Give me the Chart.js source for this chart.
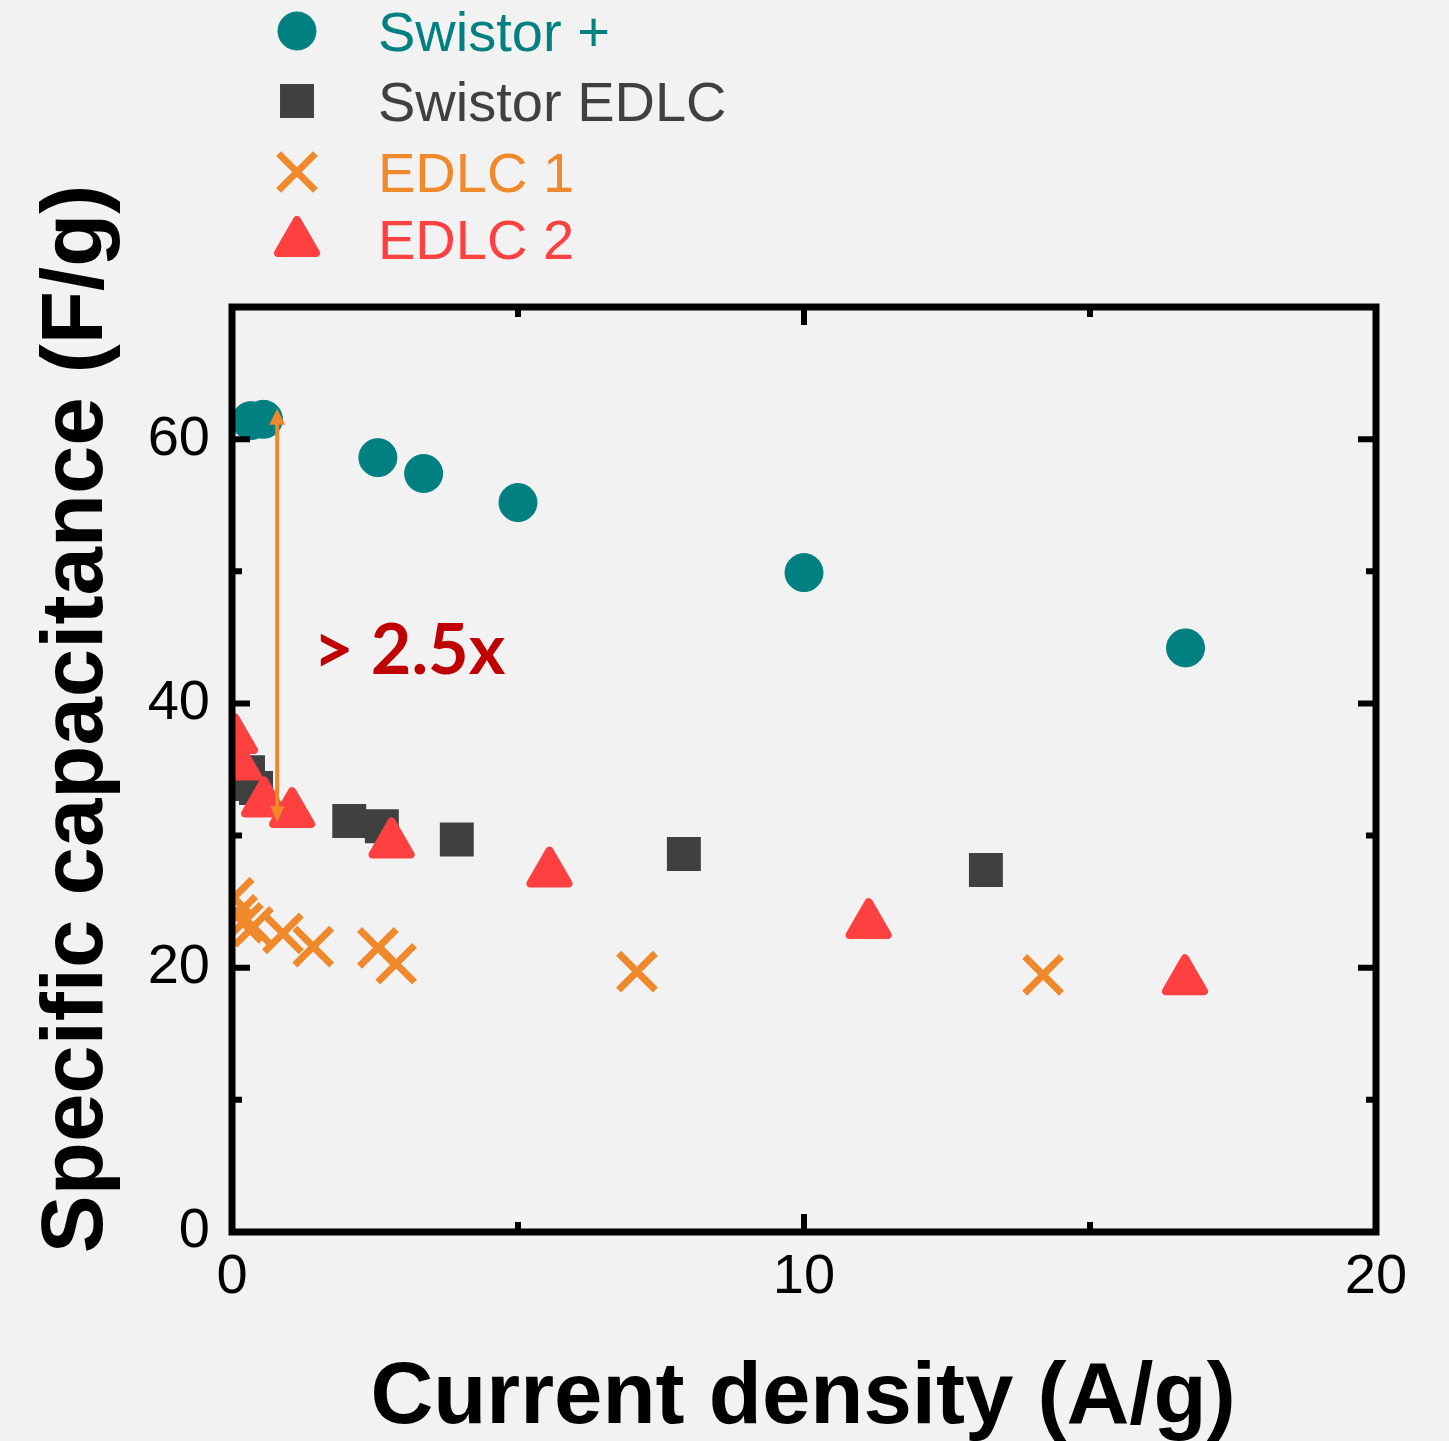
<!DOCTYPE html>
<html>
<head>
<meta charset="utf-8">
<script src="https://cdn.jsdelivr.net/npm/chart.js@4/dist/chart.umd.min.js"></script>
<style>
  html, body { margin: 0; padding: 0; background: #f2f2f2; }
  #wrap { width: 1449px; height: 1441px; }
</style>
</head>
<body>
<div id="wrap"><canvas id="myChart" width="1449" height="1441"></canvas></div>
<script>
// data
const swistorPlusX = [0.33, 0.55, 2.55, 3.35, 5.0, 10.0, 16.67];
const swistorPlusY = [61.4, 61.5, 58.6, 57.4, 55.2, 49.9, 44.2];

const swistorEdlcX = [0.15, 0.28, 0.42, 2.05, 2.62, 3.93, 7.9, 13.18];
const swistorEdlcY = [33.9, 34.8, 33.6, 31.1, 30.7, 29.7, 28.6, 27.4];

const edlc1X = [0.03, 0.09, 0.19, 0.37, 0.89, 1.42, 2.55, 2.87, 7.08, 14.18];
const edlc1Y = [25.3, 24.0, 23.4, 23.1, 22.6, 21.6, 21.5, 20.3, 19.7, 19.46];

const edlc2X = [0.05, 0.12, 0.56, 1.05, 2.79, 5.55, 11.13, 16.66];
const edlc2Y = [37.3, 35.3, 32.5, 31.7, 29.4, 27.2, 23.3, 19.05];

const seriesNames = ["Swistor +", "Swistor EDLC", "EDLC 1", "EDLC 2"];
const seriesColors = ["#008080", "#404040", "#f0882c", "#ff4040"];

const xTicks = [0, 5, 10, 15, 20];
const xTickLabels = ["0", "", "10", "", "20"];
const yTicks = [0, 10, 20, 30, 40, 50, 60, 70];
const yTickLabels = ["0", "", "20", "", "40", "", "60", ""];

// arrow and ratio note
const arrowX = 0.79;
const arrowFrom = 31.0;
const arrowTo = 62.3;
const noteText = "> 2.5x";
const noteX = 1.42;
const noteY = 42.2;

const font = "'Liberation Sans', Arial, sans-serif";

function toPoints(xs, ys) {
    return xs.map((x, i) => ({ x: x, y: ys[i] }));
}

const markers = [
    { pointStyle: "circle", radius: 19, borderWidth: 1 },
    { pointStyle: "rect", radius: 24, borderWidth: 0 },
    { pointStyle: "crossRot", radius: 26, borderWidth: 7 },
    { pointStyle: "triangle", radius: 22, borderWidth: 8 }
];

const allData = [
    toPoints(swistorPlusX, swistorPlusY),
    toPoints(swistorEdlcX, swistorEdlcY),
    toPoints(edlc1X, edlc1Y),
    toPoints(edlc2X, edlc2Y)
];

// draw order: EDLC 1 first, then squares, triangles, circles
const order = [2, 3, 1, 0];

const datasets = seriesNames.map((name, i) => ({
    label: name,
    data: allData[i],
    showLine: false,
    clip: 0,
    order: order[i],
    pointStyle: markers[i].pointStyle,
    pointRadius: markers[i].radius,
    pointHoverRadius: markers[i].radius,
    pointBorderWidth: markers[i].borderWidth,
    pointBackgroundColor: seriesColors[i],
    pointBorderColor: seriesColors[i]
}));

function drawMarker(ctx, i, x, y) {
    const m = markers[i];
    ctx.save();
    ctx.fillStyle = seriesColors[i];
    ctx.strokeStyle = seriesColors[i];
    ctx.lineWidth = m.borderWidth;
    ctx.lineJoin = "round";
    Chart.helpers.drawPoint(ctx, { pointStyle: m.pointStyle, radius: m.radius, borderWidth: m.borderWidth, rotation: 0 }, x, y);
    ctx.restore();
}

const extras = {
    id: "extras",
    beforeDraw(chart) {
        const ctx = chart.ctx;
        ctx.save();
        ctx.fillStyle = "#f2f2f2";
        ctx.fillRect(0, 0, chart.width, chart.height);
        ctx.restore();
    },
    beforeDatasetsDraw(chart) {
        // rounded corners on the triangles
        chart.ctx.lineJoin = "round";
    },
    afterDatasetsDraw(chart) {
        const ctx = chart.ctx;
        const a = chart.chartArea;
        const xs = chart.scales.x;
        const ys = chart.scales.y;
        ctx.save();

        // frame
        ctx.strokeStyle = "#000";
        ctx.lineWidth = 7;
        ctx.lineJoin = "miter";
        ctx.strokeRect(a.left, a.top, a.right - a.left, a.bottom - a.top);

        // inward ticks on all four sides
        ctx.lineWidth = 6;
        ctx.beginPath();
        yTicks.forEach((v, i) => {
            const len = yTickLabels[i] ? 18 : 10;
            const py = ys.getPixelForValue(v);
            ctx.moveTo(a.left, py); ctx.lineTo(a.left + len, py);
            ctx.moveTo(a.right, py); ctx.lineTo(a.right - len, py);
        });
        xTicks.forEach((v, i) => {
            const len = xTickLabels[i] ? 18 : 10;
            const px = xs.getPixelForValue(v);
            ctx.moveTo(px, a.bottom); ctx.lineTo(px, a.bottom - len);
            ctx.moveTo(px, a.top); ctx.lineTo(px, a.top + len);
        });
        ctx.stroke();

        // double arrow
        const ax = xs.getPixelForValue(arrowX);
        const y1 = ys.getPixelForValue(arrowFrom);
        const y2 = ys.getPixelForValue(arrowTo);
        ctx.strokeStyle = seriesColors[2];
        ctx.fillStyle = seriesColors[2];
        ctx.lineWidth = 4;
        ctx.beginPath();
        ctx.moveTo(ax, y1 - 10);
        ctx.lineTo(ax, y2 + 10);
        ctx.stroke();
        ctx.beginPath();
        ctx.moveTo(ax, y2); ctx.lineTo(ax - 8, y2 + 16); ctx.lineTo(ax + 8, y2 + 16); ctx.closePath();
        ctx.moveTo(ax, y1); ctx.lineTo(ax - 7, y1 - 16); ctx.lineTo(ax + 7, y1 - 16); ctx.closePath();
        ctx.fill();

        // ratio note
        ctx.fillStyle = "#c00000";
        ctx.font = "bold 70px Lato, 'Open Sans', sans-serif";
        ctx.textAlign = "left";
        ctx.textBaseline = "alphabetic";
        ctx.fillText(noteText, xs.getPixelForValue(noteX), ys.getPixelForValue(noteY));

        // axis titles
        ctx.fillStyle = "#000";
        ctx.font = "bold 87px " + font;
        ctx.textAlign = "center";
        ctx.fillText("Current density (A/g)", 803, 1423);
        ctx.save();
        ctx.translate(102, 719);
        ctx.rotate(-Math.PI / 2);
        ctx.fillText("Specific capacitance (F/g)", 0, 0);
        ctx.restore();

        // legend
        ctx.font = "56px " + font;
        ctx.textAlign = "left";
        ctx.textBaseline = "alphabetic";
        const rows = [31, 101, 172, 242];
        const baselines = [51, 121, 192, 259];
        seriesNames.forEach((name, i) => {
            drawMarker(ctx, i, 297, rows[i]);
            ctx.fillStyle = seriesColors[i];
            ctx.fillText(name, 378, baselines[i]);
        });

        ctx.restore();
    }
};

const ctx = document.getElementById("myChart").getContext("2d");

window.chart = new Chart(ctx, {
    type: "scatter",
    data: { datasets: datasets },
    options: {
        responsive: false,
        animation: false,
        events: [],
        layout: { padding: { top: 307, right: 73, left: 0, bottom: 0 } },
        plugins: {
            legend: { display: false },
            tooltip: { enabled: false }
        },
        scales: {
            x: {
                type: "linear",
                min: 0,
                max: 20,
                afterBuildTicks: s => { s.ticks = xTicks.map(v => ({ value: v })); },
                afterFit: s => { s.height = 209; },
                grid: { display: false, drawTicks: false },
                border: { display: false },
                ticks: {
                    padding: 12,
                    color: "#000",
                    font: { family: font, size: 56 },
                    maxRotation: 0,
                    callback: (v, i) => xTickLabels[xTicks.indexOf(v)]
                }
            },
            y: {
                type: "linear",
                min: 0,
                max: 70,
                afterBuildTicks: s => { s.ticks = yTicks.map(v => ({ value: v })); },
                afterFit: s => { s.width = 232; },
                grid: { display: false, drawTicks: false },
                border: { display: false },
                ticks: {
                    padding: 22,
                    color: "#000",
                    font: { family: font, size: 56 },
                    callback: (v, i) => yTickLabels[yTicks.indexOf(v)]
                }
            }
        }
    },
    plugins: [extras]
});
</script>
</body>
</html>
